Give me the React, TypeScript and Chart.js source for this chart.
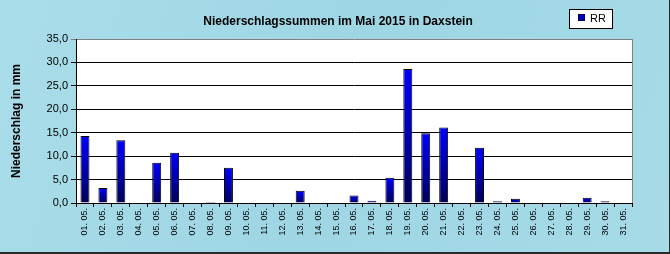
import React, { useEffect, useRef } from "react";
import { Chart, registerables } from "chart.js";

Chart.register(...registerables);

const titleText = "Niederschlagssummen im Mai 2015 in Daxstein";
const yAxisTitle = "Niederschlag in mm";
const seriesLabel = "RR";

const categories = [
  "01. 05.", "02. 05.", "03. 05.", "04. 05.", "05. 05.", "06. 05.", "07. 05.", "08. 05.",
  "09. 05.", "10. 05.", "11. 05.", "12. 05.", "13. 05.", "14. 05.", "15. 05.", "16. 05.",
  "17. 05.", "18. 05.", "19. 05.", "20. 05.", "21. 05.", "22. 05.", "23. 05.", "24. 05.",
  "25. 05.", "26. 05.", "27. 05.", "28. 05.", "29. 05.", "30. 05.", "31. 05.",
];

const rrValues = [
  14.3, 3.2, 13.4, 0, 8.6, 10.7, 0, 0.2,
  7.5, 0, 0, 0, 2.6, 0, 0, 1.6,
  0.5, 5.4, 28.6, 14.9, 16.1, 0, 11.8, 0.4,
  0.9, 0, 0, 0, 1.1, 0.4, 0,
];

const yTickValues = [0, 5, 10, 15, 20, 25, 30, 35];

const FONT = "'Liberation Sans', Arial, sans-serif";

const decorPlugin = {
  id: "decor",
  beforeDraw(chart: any) {
    const { ctx, width, height, chartArea } = chart;
    ctx.save();
    const g = ctx.createLinearGradient(0, 0, width, height);
    g.addColorStop(0, "#a9dde9");
    g.addColorStop(0.5, "#9fd6e4");
    g.addColorStop(1, "#a6dbe7");
    ctx.fillStyle = g;
    ctx.fillRect(0, 0, width, height);
    ctx.fillStyle = "#ffffff";
    ctx.fillRect(chartArea.left, chartArea.top, chartArea.right - chartArea.left, chartArea.bottom - chartArea.top);
    ctx.restore();
  },
  afterDraw(chart: any) {
    const { ctx, width, height, chartArea } = chart;
    ctx.save();
    ctx.strokeStyle = "#808080";
    ctx.lineWidth = 1;
    ctx.beginPath();
    ctx.moveTo(Math.round(chartArea.right) + 0.5, chartArea.top);
    ctx.lineTo(Math.round(chartArea.right) + 0.5, chartArea.bottom);
    ctx.stroke();
    ctx.fillStyle = "#000";
    ctx.font = `bold 12px ${FONT}`;
    ctx.textAlign = "center";
    ctx.textBaseline = "middle";
    ctx.fillText(titleText, 338, 21.5);
    ctx.fillStyle = "#fff";
    ctx.fillRect(569, 9, 43, 19);
    ctx.strokeStyle = "#000";
    ctx.strokeRect(569.5, 9.5, 43, 19);
    ctx.fillStyle = "#0000cc";
    ctx.fillRect(578, 14, 7, 7);
    ctx.strokeStyle = "#000040";
    ctx.strokeRect(578.5, 14.5, 6, 6);
    ctx.fillStyle = "#000";
    ctx.font = `11px ${FONT}`;
    ctx.textAlign = "left";
    ctx.fillText(seriesLabel, 590, 18.5);
    ctx.fillStyle = "#2a2a2a";
    ctx.fillRect(0, height - 2, width, 2);
    ctx.fillRect(width - 1, 0, 1, height);
    ctx.restore();
  },
};

function barGradient(c: any) {
  const chart = c.chart;
  const y = chart.scales?.y;
  if (!y || !chart.chartArea || typeof c.raw !== "number") return "#0000ff";
  const top = y.getPixelForValue(c.raw);
  const base = y.getPixelForValue(0);
  if (base - top < 1) return "#000070";
  const g = chart.ctx.createLinearGradient(0, top, 0, base);
  g.addColorStop(0, "#0000ff");
  g.addColorStop(1, "#000058");
  return g;
}

export default function App() {
  const ref = useRef<HTMLCanvasElement>(null);
  useEffect(() => {
    document.body.style.margin = "0";
    const chart = new Chart(ref.current!, {
      type: "bar",
      data: {
        labels: categories,
        datasets: [
          {
            label: seriesLabel,
            data: rrValues,
            backgroundColor: barGradient,
            borderColor: "#000000",
            borderWidth: 1,
            barPercentage: 0.5,
            categoryPercentage: 1,
          },
        ],
      },
      options: {
        animation: false,
        responsive: false,
        layout: { padding: { top: 39, right: 38, left: 0, bottom: 0 } },
        plugins: {
          legend: { display: false },
          title: { display: false },
          tooltip: { enabled: false },
        },
        scales: {
          x: {
            type: "category",
            offset: true,
            grid: {
              offset: true,
              drawOnChartArea: false,
              drawTicks: true,
              tickLength: 4,
              color: "#000",
            },
            border: { color: "#000", width: 1 },
            ticks: {
              autoSkip: false,
              maxRotation: 90,
              minRotation: 90,
              padding: 1,
              color: "#000",
              font: { size: 9, family: FONT },
            },
            afterFit(scale: any) {
              scale.height = 51;
              scale.paddingLeft = 0;
              scale.paddingRight = 0;
            },
          },
          y: {
            min: 0,
            max: 35,
            grid: {
              color: (c: any) => (c.tick && c.tick.value === 35 ? "#808080" : "#000"),
              drawTicks: true,
              tickLength: 5,
            },
            border: { color: "#000", width: 1 },
            ticks: {
              padding: 3,
              color: "#000",
              font: { size: 11, family: FONT },
              callback: (v: any) => Number(v).toFixed(1).replace(".", ","),
            },
            title: {
              display: true,
              text: yAxisTitle,
              color: "#000",
              font: { size: 12, weight: "bold", family: FONT },
              padding: { top: 9, bottom: 0 },
            },
            afterBuildTicks(scale: any) {
              scale.ticks = yTickValues.map((v) => ({ value: v }));
            },
            afterFit(scale: any) {
              scale.width = 76;
              scale.paddingTop = 0;
              scale.paddingBottom = 0;
            },
          },
        },
      },
      plugins: [decorPlugin],
    } as any);
    return () => chart.destroy();
  }, []);
  return (
    <div style={{ width: 670, height: 254 }}>
      <canvas ref={ref} width={670} height={254} style={{ display: "block", width: 670, height: 254 }} />
    </div>
  );
}
